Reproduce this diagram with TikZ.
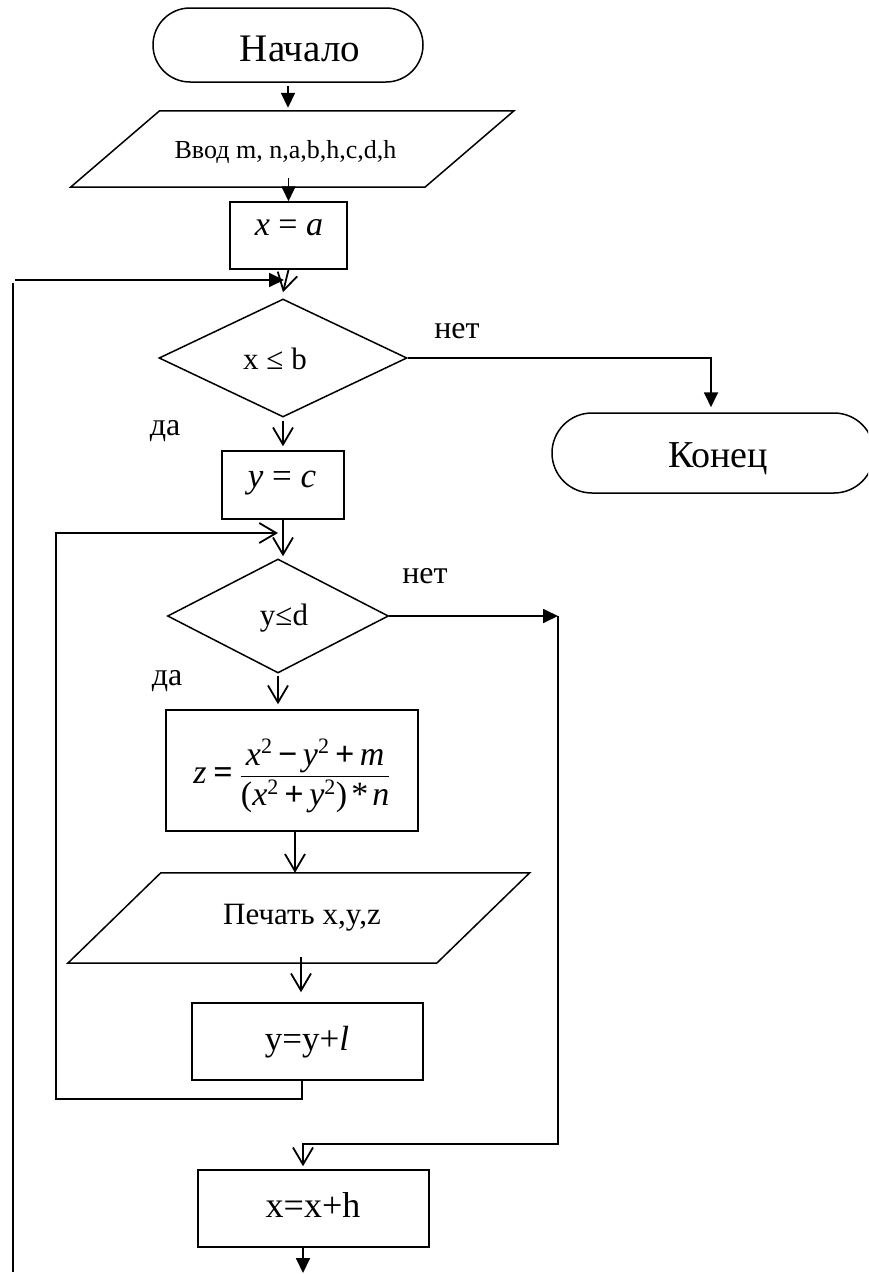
\documentclass[tikz,border=0pt]{standalone}
\usepackage{amsmath}
\usepackage{fontspec}
\setmainfont{Liberation Serif}
\usetikzlibrary{arrows.meta,shapes.geometric,shapes.misc,calc}
\newcommand\itv[1]{\text{\itshape #1}}
\newcommand\sqd{^{\text{\fontsize{22}{24}\selectfont\raisebox{3pt}{2}}}}
\newcommand\opbin[1]{\mathbin{\text{\bfseries #1}}}

\begin{document}
\begin{tikzpicture}[x=1pt,y=-1pt,
  shp/.style={draw, line width=1.5pt, inner sep=0pt},
  box/.style={shp, rectangle},
  term/.style={shp, rounded rectangle},
  dec/.style={shp, diamond},
  io/.style={inner sep=0pt, rectangle},
  ioline/.style={line width=1.5pt, line join=miter},
  con/.style={line width=1.8pt},
  fa/.style={con, -{Triangle[length=15pt,width=14pt]}},
  va/.style={con, -{Straight Barb[length=17pt,width=20pt]}},
  lbl/.style={anchor=base, inner sep=0pt},
  lab/.style={lbl, font=\fontsize{32}{36}\selectfont},
]
\useasboundingbox (0,0) rectangle (868,1274);
\clip (0,0) rectangle (868,1274);

% ---- shapes ----
\node[term, minimum width=270pt, minimum height=74pt] (start) at (288,45) {};
\node[lbl, font=\fontsize{39}{44}\selectfont] (tstart) at (300,61) {Начало};

\node[io, minimum width=354pt, minimum height=76pt] (inp) at (292.25,149) {};
\draw[ioline] ($(inp.north west)+(44.5,0)$) -- ($(inp.north east)+(44.5,0)$)
  -- ($(inp.south east)+(-44.5,0)$) -- ($(inp.south west)+(-44.5,0)$) -- cycle;
\node[lbl, font=\fontsize{26}{30}\selectfont] (tinp) at (285.5,158) {Ввод m, n,a,b,h,c,d,h};

\node[box, minimum width=117pt, minimum height=67pt] (xa) at (288.5,235.5) {};
\node[lbl, font=\fontsize{34}{38}\selectfont] (txa) at (289,235) {\textit{x} = \textit{a}};

\node[dec, minimum width=248pt, minimum height=118pt] (d1) at (283,358) {};
\node[lbl, font=\fontsize{31}{34}\selectfont] (td1) at (275,369) {x ≤ b};

\node[box, minimum width=122pt, minimum height=68pt] (yc) at (283,485) {};
\node[lbl, font=\fontsize{35}{40}\selectfont] (tyc) at (282,487) {\textit{y} = \textit{c}};

\node[term, minimum width=322pt, minimum height=80pt] (end) at (713,453) {};
\node[lbl, font=\fontsize{38}{44}\selectfont] (tend) at (718,467) {Конец};

\node[dec, minimum width=221pt, minimum height=114pt] (d2) at (278,616) {};
\node[lbl, font=\fontsize{31}{34}\selectfont] (td2) at (284,625) {y≤d};

\node[box, minimum width=252pt, minimum height=121pt] (fz) at (292,770.5) {};
\node[lbl, font=\fontsize{34}{38}\selectfont] (tfz) at (292,783)
  {$\displaystyle \itv{z}\mathrel{\text{\bfseries =}}\frac{\itv{x}\sqd \opbin{−} \itv{y}\sqd \opbin{+} \itv{m}}
   {\text{(}\itv{x}\sqd \opbin{+} \itv{y}\sqd\text{)}\,\text{*}\,\itv{n}}$};

\node[io, minimum width=368.5pt, minimum height=90pt] (pr) at (298.75,918) {};
\draw[ioline] ($(pr.north west)+(46.5,0)$) -- ($(pr.north east)+(46.5,0)$)
  -- ($(pr.south east)+(-46.5,0)$) -- ($(pr.south west)+(-46.5,0)$) -- cycle;
\node[lbl, font=\fontsize{31}{36}\selectfont] (tpr) at (302,924) {Печать x,y,z};

\node[box, minimum width=231pt, minimum height=77pt] (yl) at (307.5,1041.5) {};
\node[lbl, font=\fontsize{35}{40}\selectfont] (tyl) at (307,1050) {y=y+\textit{l}};

\node[box, minimum width=231pt, minimum height=77pt] (xh) at (313.5,1208.5) {};
\node[lbl, font=\fontsize{36}{40}\selectfont] (txh) at (313,1217) {x=x+h};

% ---- branch labels ----
\node[lab] (no1) at (457,338) {нет};
\node[lab] (yes1) at (165,435) {да};
\node[lab] (no2) at (425,583) {нет};
\node[lab] (yes2) at (167,685) {да};

% ---- loop coordinates ----
\coordinate (ol0) at (13,1272);
\coordinate (ol1) at (13,283);
\coordinate (ol2) at (15,280);
\coordinate (oj) at (284,280);
\coordinate (ilb) at (56,1099);
\coordinate (ilt) at (56,533);
\coordinate (ilj) at (278,533);
\coordinate (rj1) at (558,616);
\coordinate (rj3) at (303,1144);
\coordinate (bot) at (303,1273);

% ---- connectors ----
\draw[fa] ([yshift=-3pt]start.south) -- ([yshift=3pt]inp.north -| start.south);
\draw[fa] ([yshift=9pt]inp.south -| xa.north) -- (xa.north);

\draw[con] (ol0) -- (ol1);
\draw[fa] (ol2) -- (oj);
\draw[va] (xa.south) -- ([yshift=6pt]d1.north);

\draw[fa] (d1.east) -| ([yshift=5pt,xshift=-2pt]end.north);
\draw[va] ([yshift=-3pt]d1.south) -- ([yshift=4pt]yc.north);

\draw[va] (yc.south) -- ([yshift=2pt]d2.north -| yc.south);
\draw[va] ([xshift=-5.5pt]yl.south) |- (ilb) -- (ilt) -- (ilj);

\draw[fa] (d2.east) -- (rj1);
\draw[va] (rj1) |- (rj3) -- ([yshift=3pt]xh.north -| rj3);

\draw[va] ([yshift=-2pt]d2.south) -- ([yshift=5pt]fz.north -| d2.south);
\draw[va] ([xshift=3pt]fz.south) -- ([xshift=3pt]fz.south |- pr.north);
\draw[va] ($(pr.south)+(2.25,-6)$) -- ($(yl.north)+(-6.5,-10)$);

\draw[fa] ([xshift=-10.5pt]xh.south) -- (bot);
\end{tikzpicture}
\end{document}
